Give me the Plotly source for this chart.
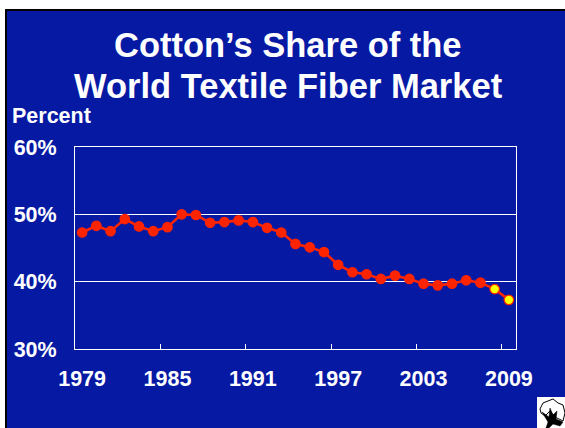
import plotly.graph_objects as go

years = [str(y) for y in [1979,1980,1981,1982,1983,1984,1985,1986,1987,1988,1989,1990,1991,1992,1993,1994,1995,1996,1997,1998,1999,2000,2001,2002,2003,2004,2005,2006,2007,2008,2009]]
share = [47.3,48.3,47.5,49.3,48.2,47.5,48.1,50.0,49.9,48.75,48.85,49.1,48.85,48.0,47.3,45.6,45.1,44.4,42.5,41.4,41.1,40.4,40.9,40.4,39.7,39.45,39.7,40.2,39.85,38.9,37.3]
marker_fill = ["#FF2400"] * 29 + ["#FFFF00"] * 2
tick_labels = ["1979", "1985", "1991", "1997", "2003", "2009"]
y_ticks = [30, 40, 50, 60]
y_labels = ["30%", "40%", "50%", "60%"]
title_lines = ["Cotton’s Share of the", "World Textile Fiber Market"]

BLUE = "#0519A3"
FONT = "Liberation Sans"
W, H = 565, 428
L, R, T, B = 75, 49, 147, 79

def px(x):
    return (x - L) / (W - L - R)

def py(y):
    return 1 - (y - T) / (H - T - B)

fig = go.Figure(go.Scatter(
    x=years, y=share, mode="lines+markers",
    line=dict(color="#FF2400", width=2.6),
    marker=dict(size=9.5, color=marker_fill, line=dict(color="#FF2400", width=1.2)),
    hoverinfo="x+y", showlegend=False, cliponaxis=False))

shapes = [
    dict(type="rect", xref="paper", yref="paper", x0=px(0), x1=px(W), y0=py(0), y1=py(9), fillcolor="white", line_width=0, layer="below"),
    dict(type="rect", xref="paper", yref="paper", x0=px(0), x1=px(5), y0=py(0), y1=py(H), fillcolor="white", line_width=0, layer="below"),
    dict(type="rect", xref="paper", yref="paper", x0=px(5), x1=px(W), y0=py(9), y1=py(11), fillcolor="black", line_width=0, layer="below"),
    dict(type="rect", xref="paper", yref="paper", x0=px(5), x1=px(7), y0=py(9), y1=py(H), fillcolor="black", line_width=0, layer="below"),
    dict(type="rect", xref="paper", yref="paper", x0=px(537), x1=px(565), y0=py(397), y1=py(428), fillcolor="white", line_width=0),
]
def poly(points, fill, width=1):
    d = "M " + " L ".join(f"{px(a):.4f} {py(b):.4f}" for a, b in points) + " Z"
    return dict(type="path", xref="paper", yref="paper", path=d, fillcolor=fill, line=dict(color="black", width=width))
shapes += [
    poly([(540,409),(543,403),(548,401),(553,399),(558,403),(563,405),(565,413),(563,421),(555,417),(550,411),(545,416),(541,413)], "white"),
    poly([(546,428),(548,422),(542,412),(549,417),(550,408),(553,415),(557,411),(556,419),(563,422),(560,426),(553,424),(549,428)], "black", 0.5),
]

annotations = [
    dict(text=title_lines[0], x=px(288), y=py(44.5), font=dict(size=34.5)),
    dict(text=title_lines[1], x=px(288), y=py(85.5), font=dict(size=34.5)),
    dict(text="Percent", x=px(51), y=py(116), font=dict(size=21.5)),
]
for a in annotations:
    a.update(xref="paper", yref="paper", showarrow=False, xanchor="center", yanchor="middle")
    a["font"].update(family=FONT, color="white", weight="bold")

fig.update_layout(
    width=W, height=H, autosize=False,
    margin=dict(l=L, r=R, t=T, b=B, pad=0),
    paper_bgcolor=BLUE, plot_bgcolor=BLUE,
    shapes=shapes, annotations=annotations,
    font=dict(family=FONT, color="white", size=21.5, weight="bold"),
    xaxis=dict(type="category", categoryorder="array", categoryarray=years,
               range=[-0.5, 30.5], tickmode="array", tickvals=tick_labels, ticktext=tick_labels,
               tickson="boundaries", ticks="inside", ticklen=5, tickcolor="white", tickwidth=1,
               showline=True, linecolor="white", linewidth=1, mirror=True, showgrid=False,
               ticklabelstandoff=10, tickangle=0),
    yaxis=dict(range=[30, 60], tickvals=y_ticks, ticktext=y_labels, ticks="",
               showline=True, linecolor="white", linewidth=1, mirror=True,
               showgrid=True, gridcolor="white", gridwidth=1, zeroline=False,
               ticklabelstandoff=13),
)

fig.write_html("out.html", config=dict(displayModeBar=False), post_script="document.body.style.margin='0';document.documentElement.style.overflow='hidden';")
